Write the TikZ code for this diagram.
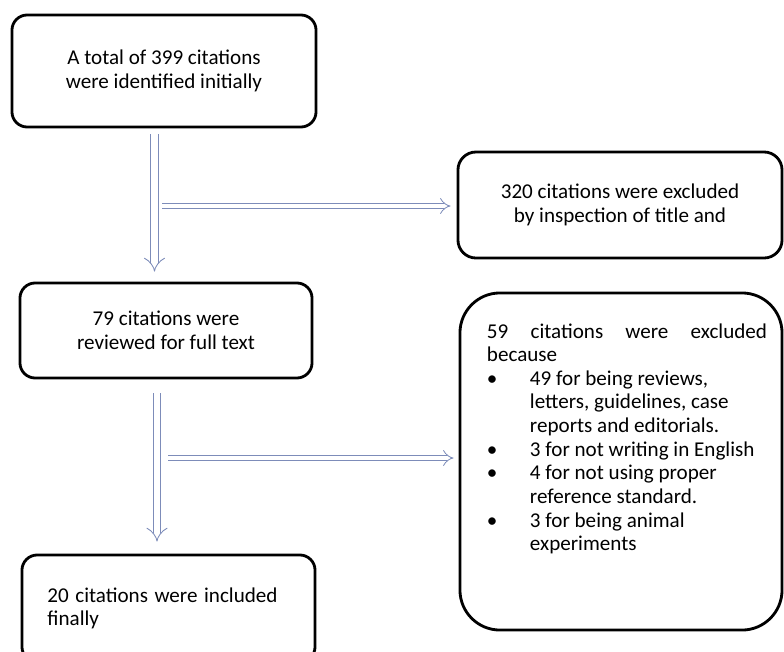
\documentclass[tikz,border=0pt]{standalone}
\usepackage{fontspec}
\setmainfont{Carlito}
\usetikzlibrary{arrows.meta,positioning}

\newcommand{\bitem}[1]{\makebox[1.075cm][l]{\textbullet}#1}
\newcommand{\bcont}[1]{\hspace*{1.075cm}#1}

\begin{document}
\begin{tikzpicture}[x=0.025cm, y=-0.025cm,
    stage/.style={rectangle, draw=black, line width=2pt, rounded corners=0.38cm, fill=white, align=center, font=\fontsize{15}{16.8}\selectfont},
    vhollow/.style={draw={rgb,255:red,125;green,140;blue,185}, line width=0.6pt, double=white, double distance=0.17cm, -{Implies}},
    hhollow/.style={draw={rgb,255:red,125;green,140;blue,185}, line width=0.6pt, double=white, double distance=0.12cm, -{Implies}}
]
\useasboundingbox (0,0) rectangle (784,652);

% stages on the left
\node[stage, minimum width=7.6cm, minimum height=2.8cm] (total) at (164,71) {A total of 399 citations\\were identified initially};
\node[stage, minimum width=7.3cm, minimum height=2.375cm] (fulltext) at (166,330.5) {79 citations were\\reviewed for full text};
\node[stage, minimum width=7.325cm, minimum height=2.675cm, align=left] (included) at (168.5,608.5) {\parbox{6.05cm}{\makebox[5.75cm][s]{20 citations were included}\\finally}};

% exclusions on the right
\node[stage, minimum width=8.1cm, minimum height=2.65cm, rounded corners=0.45cm] (title) at (620,205) {320 citations were excluded\\by inspection of title and};
\node[stage, minimum width=8.05cm, minimum height=8.425cm, rounded corners=1cm, align=left] (reasons) at (621,461.5) {\hspace*{0.3cm}\parbox[c][7.9cm][t]{7cm}{\vspace*{0.5cm}%
    \makebox[7cm][s]{59 citations were excluded}\\
    because\\
    \bitem{49 for being reviews,}\\
    \bcont{letters, guidelines, case}\\
    \bcont{reports and editorials.}\\
    \bitem{3 for not writing in English}\\
    \bitem{4 for not using proper}\\
    \bcont{reference standard.}\\
    \bitem{3 for being animal}\\
    \bcont{experiments}}};

\coordinate (fork1) at (154.5,206);
\coordinate (fork2) at (157,458);

\draw[vhollow, shorten <=0.15cm, shorten >=0.25cm] (total.south -| fork1) -- (fulltext.north -| fork1);
\draw[hhollow, shorten <=0.19cm, shorten >=0.15cm] (fork1) -- (fork1 -| title.west);
\draw[vhollow, shorten <=0.35cm, shorten >=0.3cm] (fulltext.south -| fork2) -- (included.north -| fork2);
\draw[hhollow, shorten <=0.275cm, shorten >=0.125cm] (fork2) -- (fork2 -| reasons.west);

\end{tikzpicture}
\end{document}
